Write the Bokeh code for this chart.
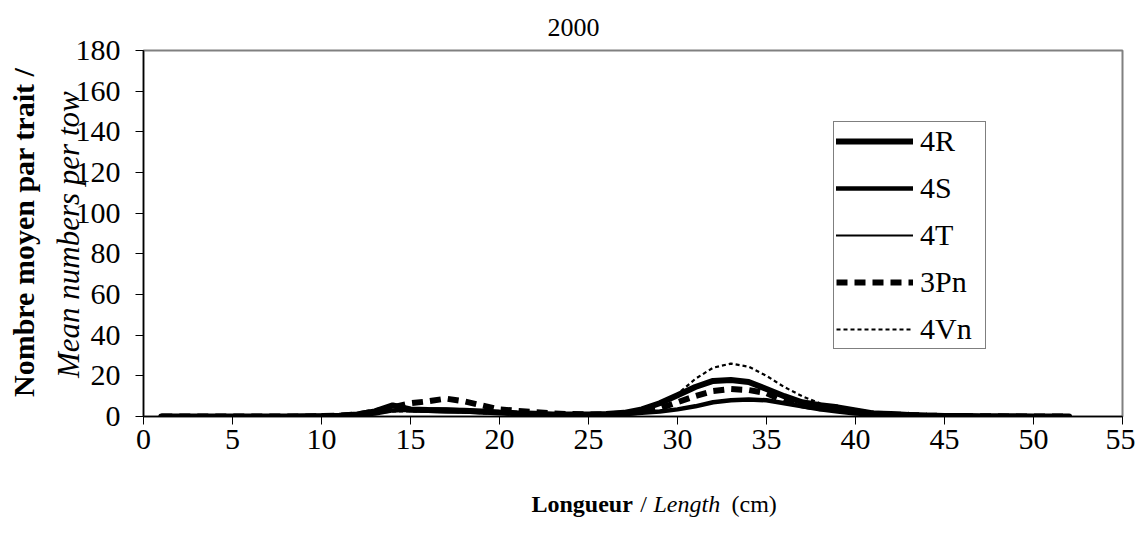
import math
from bokeh.plotting import figure
from bokeh.layouts import column, row
from bokeh.models import Range1d, Legend, LegendItem, Label, FixedTicker, ColumnDataSource, Title
from bokeh.embed import file_html
from bokeh.resources import INLINE

lengths = list(range(1, 53))
r4R = [0, 0, 0, 0, 0, 0, 0, 0, 0.1, 0.2,
       0.4, 1.0, 2.5, 5.5, 3.5, 3.2, 3.0, 2.8, 2.5, 2.0,
       1.6, 1.3, 1.0, 1.0, 1.0, 1.2, 1.8, 3.5, 6.5, 10.5,
       14.5, 17.5, 18.0, 17.0, 13.5, 10.0, 7.0, 5.5, 4.5, 3.0,
       1.5, 1.2, 0.8, 0.5, 0.3, 0.2, 0.1, 0.1, 0.1, 0, 0, 0]
r4S = [0, 0, 0, 0, 0, 0, 0, 0, 0.1, 0.2,
       0.3, 0.6, 1.5, 3.0, 3.5, 3.5, 3.5, 3.0, 2.5, 2.0,
       1.5, 1.0, 0.8, 0.8, 1.0, 1.0, 1.2, 1.8, 2.5, 3.5,
       5.0, 7.0, 8.0, 8.3, 8.0, 6.5, 5.0, 3.5, 2.5, 1.5,
       1.0, 0.8, 0.5, 0.4, 0.3, 0.2, 0.1, 0.1, 0, 0, 0, 0]
r4T = [0, 0, 0, 0, 0, 0, 0, 0, 0, 0.1,
       0.3, 0.8, 1.8, 3.0, 2.5, 2.2, 2.0, 1.8, 1.5, 1.3,
       1.0, 0.8, 0.7, 0.7, 0.8, 1.0, 1.5, 3.0, 6.0, 11.0,
       15.0, 17.0, 18.5, 17.5, 14.0, 10.5, 7.5, 5.5, 4.0, 2.5,
       1.5, 1.0, 0.8, 0.5, 0.3, 0.2, 0.1, 0.1, 0, 0, 0, 0]
r3Pn = [0, 0, 0, 0, 0, 0, 0, 0, 0, 0.2,
        0.5, 1.0, 2.5, 4.5, 6.5, 7.5, 8.8, 7.5, 5.5, 3.5,
        2.8, 2.2, 1.5, 1.2, 1.0, 1.0, 1.5, 2.5, 4.0, 7.0,
        10.0, 12.5, 13.5, 13.0, 11.5, 7.5, 5.5, 4.0, 4.0, 2.5,
        1.5, 1.0, 0.8, 0.5, 0.3, 0.2, 0.1, 0.1, 0, 0, 0, 0]
r4Vn = [0, 0, 0, 0, 0, 0, 0, 0, 0, 0.1,
        0.3, 0.8, 1.5, 2.5, 2.5, 2.5, 2.5, 2.0, 1.6, 1.3,
        1.0, 0.8, 0.7, 0.7, 0.8, 1.0, 1.5, 3.0, 6.0, 11.0,
        18.5, 24.0, 26.0, 24.5, 20.0, 14.5, 10.0, 6.5, 4.0, 2.5,
        1.5, 1.0, 0.8, 0.5, 0.3, 0.2, 0.1, 0.1, 0, 0, 0, 0]

series_names = ["4R", "4S", "4T", "3Pn", "4Vn"]
x_ticks = list(range(0, 56, 5))
y_ticks = list(range(0, 181, 20))

FONT = "Liberation Serif"

src = ColumnDataSource(dict(L=lengths, r4R=r4R, r4S=r4S, r4T=r4T, r3Pn=r3Pn, r4Vn=r4Vn))

LEFT_W = 92
OVERLAP = 20
MAIN_W = 1063
MAIN_H = 465
BOT_H = 65

p = figure(width=MAIN_W, height=MAIN_H, x_range=Range1d(0, 55), y_range=Range1d(0, 180),
           output_backend="svg", toolbar_location=None,
           min_border_left=70, min_border_right=13, min_border_top=50, min_border_bottom=49)
p.margin = (0, 0, 0, -OVERLAP)
p.border_fill_color = None
p.xgrid.visible = False
p.ygrid.visible = False
p.outline_line_color = "#808080"
p.outline_line_width = 2
p.background_fill_color = "white"

p.add_layout(Title(text="2000", align="left", offset=404, standoff=30, text_font=FONT,
                   text_font_style="normal", text_font_size="26px", text_color="black"), "above")

for ax, ticks in ((p.xaxis, x_ticks), (p.yaxis, y_ticks)):
    ax.ticker = FixedTicker(ticks=ticks)
    ax.minor_tick_line_color = None
    ax.major_tick_in = 0
    ax.major_tick_out = 8
    ax.major_tick_line_color = "black"
    ax.axis_line_color = "black"
    ax.axis_line_width = 1.5
    ax.major_label_text_font = FONT
    ax.major_label_text_font_size = "30px"
    ax.major_label_text_color = "black"
p.yaxis.major_label_standoff = 15
p.xaxis.major_label_standoff = 5

styles = [
    ("r4R", dict(line_width=6, line_cap="round")),
    ("r4S", dict(line_width=4.5, line_cap="round")),
    ("r4T", dict(line_width=2, line_cap="round")),
    ("r3Pn", dict(line_width=6, line_dash="11 7")),
    ("r4Vn", dict(line_width=2.2, line_dash="4 3")),
]
items = []
for name, (col, st) in zip(series_names, styles):
    r = p.line("L", col, source=src, line_color="black", **st)
    items.append(LegendItem(label=name, renderers=[r]))

legend = Legend(items=items, location=(690, 67), glyph_width=77, glyph_height=32,
                label_height=32, label_width=63, spacing=13, padding=2, label_standoff=7, margin=0,
                label_text_font=FONT, label_text_font_size="30px", label_text_color="black",
                border_line_color="black", border_line_width=1,
                background_fill_color="white", background_fill_alpha=1)
p.add_layout(legend, "center")


def strip(w, h):
    f = figure(width=w, height=h, x_range=Range1d(0, w), y_range=Range1d(0, h),
               output_backend="svg", toolbar_location=None, min_border=0,
               x_axis_location=None, y_axis_location=None)
    f.xgrid.visible = False
    f.ygrid.visible = False
    f.outline_line_color = None
    return f


def lab(fig, text, x, y, style="normal", size="30px", angle=0.0, align="center"):
    fig.add_layout(Label(x=x, y=y, text=text, text_font=FONT, text_font_style=style,
                         text_font_size=size, text_align=align, text_baseline="middle",
                         angle=angle, text_color="black"))


# y axis title (two lines, rotated) in a left strip
pleft = strip(LEFT_W, MAIN_H)
lab(pleft, "Nombre moyen par trait /", 23, MAIN_H - 231, style="bold", size="30px", angle=math.pi / 2)
lab(pleft, "Mean numbers per tow", 68, MAIN_H - 234, style="italic", size="31px", angle=math.pi / 2)

# x axis title in a bottom strip
pbot = strip(LEFT_W + MAIN_W - OVERLAP, BOT_H)
yb = BOT_H - (503 - MAIN_H)
lab(pbot, "Longueur", 531, yb, style="bold", size="24px", align="left")
lab(pbot, "/", 643, yb, size="24px")
lab(pbot, "Length", 653, yb, style="italic", size="24px", align="left")
lab(pbot, "(cm)", 731, yb, size="24px", align="left")

layout = column(row(pleft, p), pbot)
open("out.html", "w").write(file_html(layout, INLINE))
